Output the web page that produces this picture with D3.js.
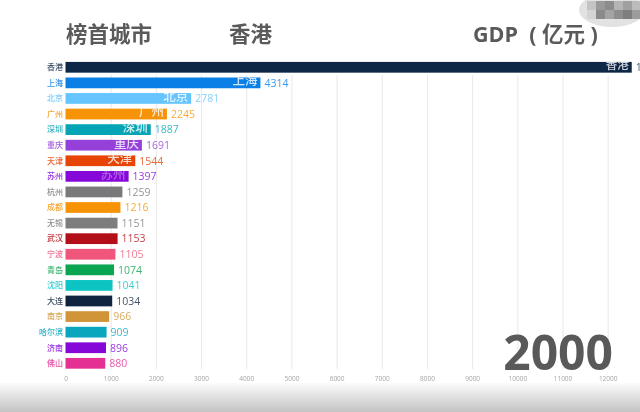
<html>
<head>
<meta charset="utf-8">
<script src="https://d3js.org/d3.v7.min.js"></script>
<style>
    html, body { margin: 0; padding: 0; background: #fff; overflow: hidden; }
    svg { display: block; filter: blur(0.5px); }
    text { font-family: "Open Sans", "Noto Sans CJK SC", sans-serif; }
</style>
</head>
<body>
<div id="chart_area"></div>
<script>
    // values, year 2000
    let cities = ["香港","上海","北京","广州","深圳","重庆","天津","苏州","杭州","成都","无锡","武汉","宁波","青岛","沈阳","大连","南京","哈尔滨","济南","佛山"];
    let gdp = [12532,4314,2781,2245,1887,1691,1544,1397,1259,1216,1151,1153,1105,1074,1041,1034,966,909,896,880];
    let colors = ["#0f2747","#0a7fe6","#66c5ff","#f79306","#06a5b5","#9540d8","#e64506","#8508d8","#79787a","#f79306","#7d7d7d","#b30f18","#f0567c","#0aa550","#0cc4c4","#10233f","#d09539","#0aa6bd","#8508d8","#e43092"];
    let innerCities = ["香港","上海","北京","广州","深圳","重庆","天津","苏州"];
    let ticks = [0,1000,2000,3000,4000,5000,6000,7000,8000,9000,10000,11000,12000];
    let mosaic = [[0,0,"#c4c4c4"],[1,0,"#9a9a9a"],[2,0,"#8c8c8c"],[3,0,"#b4b4b4"],[4,0,"#a0a0a0"],[5,0,"#bcbcbc"],
                  [0,1,"#d4d4d4"],[1,1,"#8a8a8a"],[2,1,"#a4a4a4"],[3,1,"#8e8e8e"],[4,1,"#7e7e7e"],[5,1,"#9c9c9c"]];

    let width = 640;
    let height = 412;
    let svg = d3.select("#chart_area").append("svg")
        .attr("width", width)
        .attr("height", height);

    let x = d3.scaleLinear().domain([0, 12000]).range([65.5, 607.7]);
    let y = d3.scaleBand().domain(cities).range([59.5, 371.1]).paddingInner(0.31).paddingOuter(0.155);

    // grid lines and tick labels
    let axis = svg.append("g")
        .attr("transform", "translate(0,369)")
        .call(d3.axisBottom(x).tickValues(ticks).tickFormat(d => d).tickSize(-294).tickPadding(7));
    axis.select(".domain").remove();
    axis.selectAll("line").attr("stroke", "#e8e8e8").attr("stroke-width", 1);
    axis.select(".tick line").attr("stroke", "none");
    axis.selectAll("text").attr("fill", "#a5a5a5").style("font-size", "6.5px");

    // bars
    svg.selectAll(".bar")
        .data(cities)
        .join("rect")
        .attr("class", "bar")
        .attr("x", x(0))
        .attr("y", d => y(d))
        .attr("width", (d, i) => x(gdp[i]) - x(0))
        .attr("height", y.bandwidth())
        .attr("fill", (d, i) => colors[i]);

    // city names left of the axis
    svg.selectAll(".city")
        .data(cities)
        .join("text")
        .attr("class", "city")
        .attr("x", x(0) - 2.5)
        .attr("y", d => y(d) + y.bandwidth() / 2)
        .attr("dy", "0.35em")
        .attr("text-anchor", "end")
        .attr("fill", (d, i) => colors[i])
        .attr("fill-opacity", 0.85)
        .style("font-size", "8px")
        .style("font-weight", 500)
        .text(d => d);

    // value labels
    svg.selectAll(".value")
        .data(cities)
        .join("text")
        .attr("class", "value")
        .attr("x", (d, i) => x(gdp[i]) + 4)
        .attr("y", d => y(d) + y.bandwidth() / 2)
        .attr("dy", "0.36em")
        .attr("fill", (d, i) => colors[i])
        .attr("fill-opacity", 0.8)
        .style("font-size", "10.5px")
        .text((d, i) => gdp[i]);

    // names inside the bar ends
    svg.selectAll(".inner")
        .data(innerCities)
        .join("text")
        .attr("class", "inner")
        .attr("x", d => x(gdp[cities.indexOf(d)]) - 3)
        .attr("y", d => y(d) + y.bandwidth() / 2 - 2)
        .attr("dy", "0.35em")
        .attr("text-anchor", "end")
        .attr("fill", "#fff")
        .attr("fill-opacity", d => d == "苏州" ? 0.35 : 0.8)
        .style("font-size", d => d == "香港" ? "11.5px" : "12.5px")
        .style("font-weight", 500)
        .text(d => d);

    // titles
    let titles = [["榜首城市", 66], ["香港", 229], ["GDP\u00a0\u00a0( 亿元 )", 473]];
    svg.selectAll(".title")
        .data(titles)
        .join("text")
        .attr("class", "title")
        .attr("x", d => d[1])
        .attr("y", 42)
        .attr("fill", "#5a5a5a")
        .style("font-size", "21.5px")
        .style("font-weight", 700)
        .text(d => d[0]);

    svg.append("text")
        .attr("x", 613)
        .attr("y", 370)
        .attr("text-anchor", "end")
        .attr("fill", "#595959")
        .style("font-size", "48px")
        .style("font-weight", 700)
        .text("2000");

    // pixelated patch top right
    svg.append("ellipse").attr("cx", 612).attr("cy", 10).attr("rx", 33).attr("ry", 17).attr("fill", "#e2e2e2");
    svg.selectAll(".mosaic")
        .data(mosaic)
        .join("rect")
        .attr("class", "mosaic")
        .attr("x", d => 587 + d[0] * 9)
        .attr("y", d => 1 + d[1] * 9)
        .attr("width", 9)
        .attr("height", 9)
        .attr("fill", d => d[2]);

    // grey band at the bottom
    let grad = svg.append("defs").append("linearGradient")
        .attr("id", "fade").attr("x1", 0).attr("x2", 0).attr("y1", 0).attr("y2", 1);
    grad.append("stop").attr("offset", 0).attr("stop-color", "#fbfbfb");
    grad.append("stop").attr("offset", 1).attr("stop-color", "#c4c4c4");
    svg.append("rect")
        .attr("x", 0).attr("y", 383)
        .attr("width", width).attr("height", 29)
        .attr("fill", "url(#fade)");
</script>
</body>
</html>
